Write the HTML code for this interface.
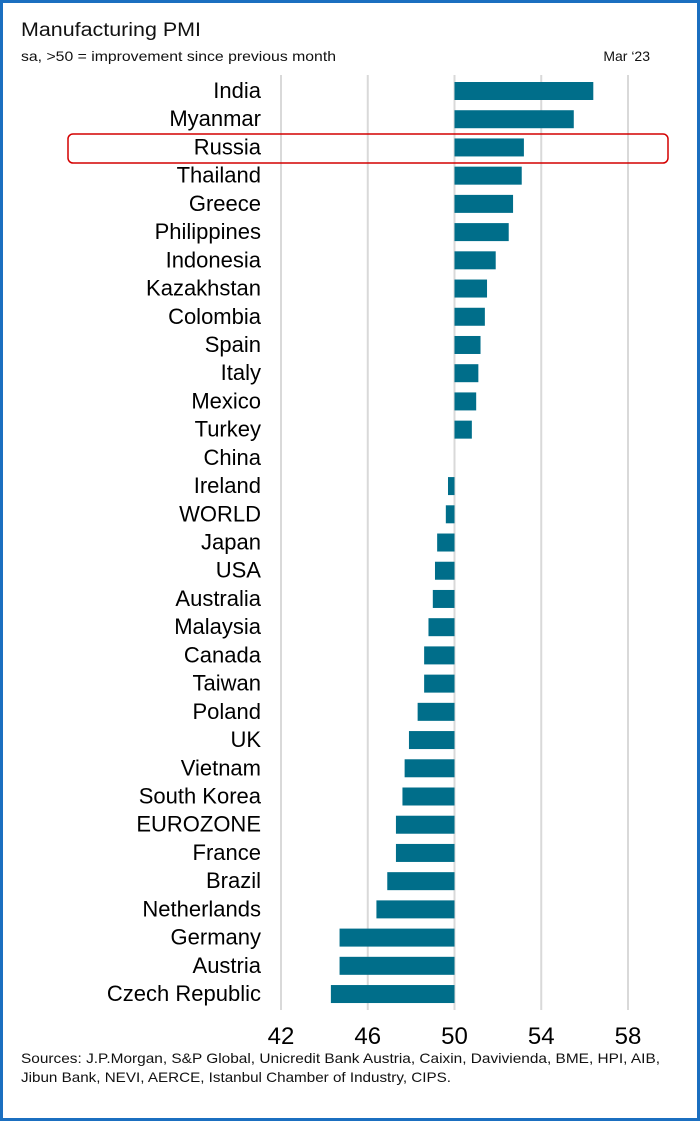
<!DOCTYPE html>
<html><head><meta charset="utf-8"><style>
body{margin:0;background:#fff;}
svg{display:block;font-family:"Liberation Sans",sans-serif;}
</style></head><body>
<svg id="c" width="700" height="1121">
<rect x="1.5" y="1.5" width="697" height="1118" fill="#fff" stroke="#1b6fc0" stroke-width="3"/>
<text x="21" y="36" font-size="19" fill="#111" textLength="180" lengthAdjust="spacingAndGlyphs">Manufacturing PMI</text>
<text x="21" y="61" font-size="14" fill="#111" textLength="315" lengthAdjust="spacingAndGlyphs">sa, &gt;50 = improvement since previous month</text>
<text x="650" y="61" font-size="14" fill="#111" text-anchor="end">Mar ‘23</text>
<g id="grid"></g><g id="bars"></g><g id="labels"></g><g id="ticks"></g>
<rect x="68" y="134" width="600" height="29" rx="5" fill="none" stroke="#d40000" stroke-width="1.5"/>
<text x="21" y="1063" font-size="14" fill="#111" textLength="639" lengthAdjust="spacingAndGlyphs">Sources: J.P.Morgan, S&amp;P Global, Unicredit Bank Austria, Caixin, Davivienda, BME, HPI, AIB,</text>
<text x="21" y="1082" font-size="14" fill="#111" textLength="430" lengthAdjust="spacingAndGlyphs">Jibun Bank, NEVI, AERCE, Istanbul Chamber of Industry, CIPS.</text>
</svg>
<script>
const categories=["India","Myanmar","Russia","Thailand","Greece","Philippines","Indonesia","Kazakhstan","Colombia","Spain","Italy","Mexico","Turkey","China","Ireland","WORLD","Japan","USA","Australia","Malaysia","Canada","Taiwan","Poland","UK","Vietnam","South Korea","EUROZONE","France","Brazil","Netherlands","Germany","Austria","Czech Republic"];
const values=[56.4,55.5,53.2,53.1,52.7,52.5,51.9,51.5,51.4,51.2,51.1,51.0,50.8,50.0,49.7,49.6,49.2,49.1,49.0,48.8,48.6,48.6,48.3,47.9,47.7,47.6,47.3,47.3,46.9,46.4,44.7,44.7,44.3];
const ticks=[42,46,50,54,58];
const NS="http://www.w3.org/2000/svg";
const x=v=>281+(v-42)*(628-281)/16;
const y=i=>91+i*28.22;
function mk(t,a,p){const e=document.createElementNS(NS,t);for(const k in a)e.setAttribute(k,a[k]);document.getElementById(p).appendChild(e);return e;}
ticks.forEach(t=>{
 const l=mk('line',{x1:x(t),x2:x(t),y1:75,y2:1010,stroke:'#d9d9d9','stroke-width':2},'grid');
 
 
 const tx=mk('text',{x:x(t),y:1044,'font-size':24,'text-anchor':'middle',fill:'#000'},'ticks');
 tx.textContent=t;
 
 
});
categories.forEach((c,i)=>{
 const v=values[i];
 const x0=Math.min(x(50),x(v)),w=Math.abs(x(v)-x(50));
 const r=mk('rect',{x:x0,y:y(i)-9,width:w,height:18,fill:'#006e8a'},'bars');
 
 
 const t=mk('text',{x:261,y:y(i)+7,'font-size':22,'text-anchor':'end',fill:'#000'},'labels');
 t.textContent=c;
 
 
});
</script>
</body></html>
